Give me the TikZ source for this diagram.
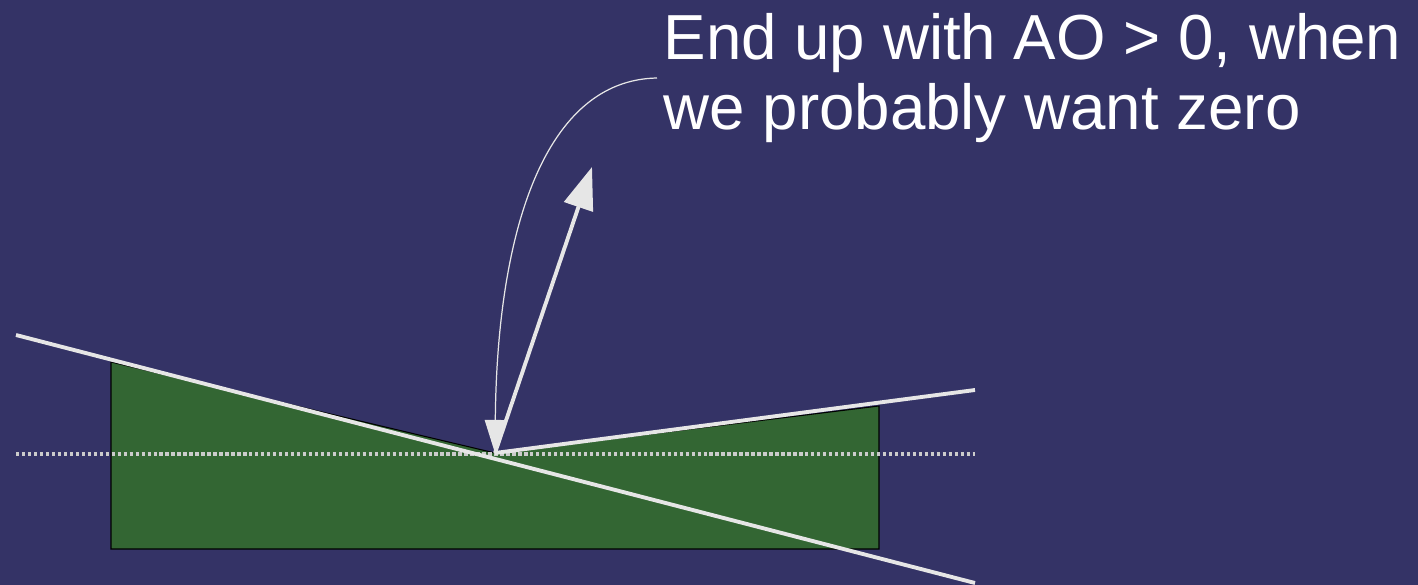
\documentclass[tikz,border=0pt]{standalone}
\usepackage{fontspec}
\setmainfont{Liberation Sans}
\usetikzlibrary{arrows.meta}
\definecolor{bgblue}{HTML}{343366}
\definecolor{areagreen}{HTML}{336633}
\definecolor{linegray}{HTML}{E6E6E6}
\definecolor{dotgray}{HTML}{CCCCCC}
\tikzset{
  whiteline/.style={draw=linegray, line width=1.1pt},
  dotline/.style={draw=dotgray, line width=1.1pt, dash pattern=on 0.95pt off 0.75pt},
  thincurve/.style={draw=linegray, line width=0.35pt},
  label/.style={text=white, inner sep=0pt, anchor=base west, font=\fontsize{18.1}{21}\selectfont}
}
\begin{document}
\begin{tikzpicture}[x=0.01cm, y=-0.01cm]
  \fill[bgblue] (0,0) rectangle (1418,585);
  \useasboundingbox (0,0) rectangle (1418,585);
  % coordinates
  \coordinate (v) at (495,453);
  \coordinate (tl) at (111,362);
  \coordinate (tr) at (879,406);
  \coordinate (br) at (879,549);
  \coordinate (bl) at (111,549);
  \coordinate (l1a) at (16,335);
  \coordinate (l1b) at (975,583);
  \coordinate (l2b) at (975,390);
  \coordinate (da) at (16,454);
  \coordinate (db) at (975,454);
  \coordinate (tip) at (592,167);
  \coordinate (cs) at (657,78);
  % green area
  \filldraw[fill=areagreen, draw=black, line width=0.3pt] (tl) -- (v) -- (tr) -- (br) -- (bl) -- cycle;
  % dotted line
  \draw[dotline] (da) -- (db);
  % white lines
  \draw[whiteline] (l1a) -- (l1b);
  \draw[whiteline] (v) -- (l2b);
  % arrow up
  \draw[whiteline, -{Triangle[length=12pt, width=8.5pt]}, linegray] (v) -- (tip);
  % curve arrow
  \draw[thincurve, -{Triangle[length=9.4pt, width=6pt]}] (cs) .. controls (545,80) and (497,230) .. (v);
  % text
  \node[label] (t1) at (663,60) {End up with AO > 0, when};
  \node[label] (t2) at (663,130) {we probably want zero};
\end{tikzpicture}
\end{document}
